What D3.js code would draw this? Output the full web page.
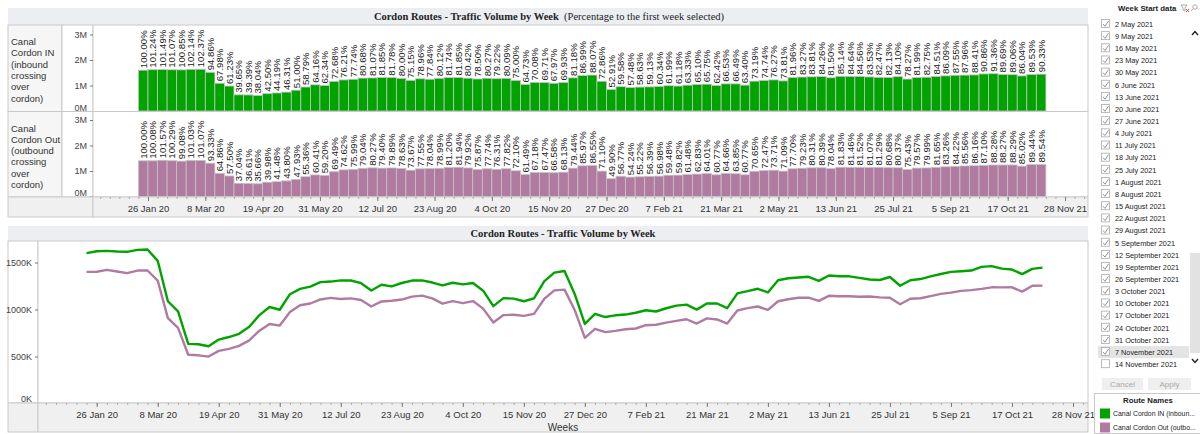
<!DOCTYPE html>
<html>
<head>
<meta charset="utf-8">
<script src="https://cdn.jsdelivr.net/npm/d3@7"></script>
<style>
  body { margin: 0; background: #fff; }
  svg { font-family: "Liberation Sans", Arial, sans-serif; }
</style>
</head>
<body>
<svg id="chart" width="1200" height="434"></svg>
<script>
/*global d3*/

// ---- data ----
const firstWeek = new Date(2020, 0, 19)
const lastWeek = new Date(2021, 10, 7)
const weeks = d3.timeWeek.range(firstWeek, d3.timeDay.offset(lastWeek, 1))

// volume of the first selected week
const baseIn = 1600000
const baseOut = 1400000

const pctIn = [100.00, 101.24, 101.49, 101.07, 100.85, 102.14, 102.37, 94.86, 67.98, 61.23,
  39.65, 39.39, 38.04, 42.50, 44.19, 46.31, 51.00, 58.79, 64.16, 62.34,
  72.68, 76.21, 77.74, 80.68, 81.07, 81.85, 81.78, 80.00, 75.15, 78.96,
  77.84, 80.12, 81.74, 81.85, 80.42, 78.50, 80.27, 79.22, 80.09, 75.00,
  64.73, 70.08, 69.71, 67.97, 69.93, 81.18, 86.99, 88.07, 72.86, 52.91,
  59.58, 57.48, 58.63, 59.13, 60.34, 61.99, 61.18, 63.33, 65.10, 65.75,
  62.42, 66.53, 66.49, 63.40, 73.19, 74.74, 76.27, 73.81, 81.96, 83.27,
  83.81, 84.26, 81.50, 85.14, 84.64, 84.56, 83.53, 82.47, 82.13, 84.10,
  78.27, 81.99, 82.75, 84.51, 86.09, 87.55, 87.96, 88.41, 90.86, 91.36,
  89.69, 89.06, 86.04, 89.53, 90.33]

const pctOut = [100.00, 100.08, 101.57, 100.29, 99.08, 101.03, 101.07, 93.33, 64.86, 57.50,
  37.04, 36.61, 35.66, 39.98, 41.48, 43.80, 47.93, 55.36, 60.41, 59.20,
  69.49, 74.62, 75.99, 79.04, 80.27, 79.40, 79.89, 78.63, 73.67, 77.55,
  78.04, 78.99, 81.20, 81.94, 79.92, 75.87, 77.74, 76.31, 77.82, 72.10,
  61.49, 67.18, 67.47, 66.58, 68.13, 79.44, 85.97, 86.55, 71.10, 49.90,
  56.77, 54.24, 55.22, 56.39, 56.98, 59.48, 59.82, 61.48, 62.83, 64.01,
  60.77, 64.66, 63.85, 60.77, 70.65, 72.47, 73.71, 71.09, 77.70, 79.23,
  80.31, 80.39, 78.04, 81.83, 81.46, 81.52, 81.07, 81.29, 80.68, 80.37,
  75.43, 79.57, 79.99, 81.65, 83.26, 84.22, 85.56, 86.16, 87.10, 88.28,
  88.27, 88.29, 85.02, 89.44, 89.54]

const routes = [
  { key: "in", pct: pctIn, base: baseIn, color: "#00a300", label: ["Canal", "Cordon IN", "(inbound", "crossing", "over", "cordon)"], legend: "Canal Cordon IN (inboun..." },
  { key: "out", pct: pctOut, base: baseOut, color: "#b07aa1", label: ["Canal", "Cordon Out", "(outbound", "crossing", "over", "cordon)"], legend: "Canal Cordon Out (outbo..." },
]

const barTicksM = [0, 1e6, 2e6, 3e6]
const lineTicksK = [0, 500000, 1000000, 1500000]
const tickDates = d3.timeWeek.range(new Date(2020, 0, 26), new Date(2021, 10, 29), 6)

// rows of the week filter list
const filterWeeks = d3.timeWeek.range(new Date(2021, 4, 2), new Date(2021, 10, 15))

// ---- build ----
const svg = d3.select("#chart")
const fmtTick = d3.timeFormat("%-d %b %y")
const border = "#c9c9c9"
const band = "#eceef1"
const axisBg = "#f0f0f0"

const makeTime = (a, b, left, right) => {
  const tmp = d3.scaleTime().domain([new Date(2020, 0, 26), new Date(2021, 10, 28)]).range([a, b])
  return d3.scaleTime().domain([tmp.invert(left), tmp.invert(right)]).range([left, right])
}

// ========== top chart ==========
const topDims = { left: 93, right: 1088 }
const rows = [
  { y0: 25, y1: 111.5 },
  { y0: 111.5, y1: 197 },
]
const xTop = makeTime(148, 1065, topDims.left, topDims.right)

svg.append("rect").attr("x", 8).attr("y", 8).attr("width", 1080).attr("height", 17)
  .attr("fill", band)
const t1 = svg.append("text").attr("x", 549).attr("y", 20).attr("text-anchor", "middle")
  .style("font-family", "'Liberation Serif', serif").style("font-size", "10.5px").attr("fill", "#222")
t1.append("tspan").attr("font-weight", "bold").text("Cordon Routes - Traffic Volume by Week")
t1.append("tspan").text("\u00a0\u00a0(Percentage to the first week selected)")

routes.forEach((r, i) => {
  const { y0, y1 } = rows[i]
  // header cell
  svg.append("rect").attr("x", 8).attr("y", y0).attr("width", 54).attr("height", y1 - y0)
    .attr("fill", "#f6f6f6").attr("stroke", border)
  svg.append("rect").attr("x", 62).attr("y", y0).attr("width", topDims.left - 62).attr("height", y1 - y0)
    .attr("fill", "#fff").attr("stroke", border)
  svg.append("rect").attr("x", topDims.left).attr("y", y0).attr("width", topDims.right - topDims.left).attr("height", y1 - y0)
    .attr("fill", "#fff").attr("stroke", border)

  svg.append("g").selectAll("text").data(r.label).join("text")
    .attr("x", 11).attr("y", (d, j) => y0 + 20 + j * 11.3)
    .attr("font-size", "9.5px").attr("fill", "#333").text(d => d)

  const yScale = d3.scaleLinear().domain([0, 3e6]).range([y1 - 0.5, y1 - 77])

  const yAxis = svg.append("g")
    .attr("transform", `translate(${topDims.left},0)`)
    .call(d3.axisLeft(yScale).tickValues(barTicksM).tickSize(3).tickFormat(d => d / 1e6 + "M"))
  yAxis.select(".domain").remove()
  yAxis.selectAll("line").attr("stroke", "#777")
  yAxis.selectAll("text").attr("font-size", "9px").attr("fill", "#444")
  yAxis.selectAll(".tick").filter(d => d === 0).select("text").attr("dy", "-0.1em")

  const data = weeks.map((w, j) => ({ date: w, pct: r.pct[j], value: r.base * r.pct[j] / 100 }))

  const bars = svg.append("g")
  bars.selectAll("rect").data(data).join("rect")
    .attr("x", d => xTop(d.date))
    .attr("y", d => yScale(d.value))
    .attr("width", d => xTop(d3.timeDay.offset(d.date, 7)) - xTop(d.date))
    .attr("height", d => yScale(0) - yScale(d.value))
    .attr("fill", r.color)
    .attr("stroke", "#c4c4c4")
    .attr("stroke-width", 0.8)

  bars.selectAll("text").data(data).join("text")
    .attr("transform", d => {
      const cx = (xTop(d.date) + xTop(d3.timeDay.offset(d.date, 7))) / 2
      return `translate(${cx},${yScale(d.value) - 2}) rotate(-90)`
    })
    .attr("dy", "0.36em")
    .attr("font-size", "9.6px")
    .attr("fill", "#222")
    .text(d => d.pct.toFixed(2) + "%")
})

// top x axis row
svg.append("rect").attr("x", 8).attr("y", 197).attr("width", topDims.left - 8).attr("height", 20)
  .attr("fill", axisBg).attr("stroke", border)
svg.append("rect").attr("x", topDims.left).attr("y", 197).attr("width", topDims.right - topDims.left).attr("height", 20)
  .attr("fill", axisBg).attr("stroke", border)

const drawTimeAxis = (x, y, size) => {
  const minor = svg.append("g").attr("transform", `translate(0,${y})`)
    .call(d3.axisBottom(x).tickValues(d3.timeWeek.range(x.domain()[0], x.domain()[1])).tickSize(2).tickFormat(""))
  minor.select(".domain").remove()
  minor.selectAll("line").attr("stroke", "#aaa")
  const ax = svg.append("g").attr("transform", `translate(0,${y})`)
    .call(d3.axisBottom(x).tickValues(tickDates).tickSize(4).tickPadding(4).tickFormat(fmtTick))
  ax.select(".domain").remove()
  ax.selectAll("line").attr("stroke", "#777")
  ax.selectAll("text").attr("font-size", size).attr("fill", "#333")
}
drawTimeAxis(xTop, 197, "9.5px")

// ========== bottom chart ==========
const bot = { left: 38, right: 1088, top: 241, bottom: 403 }
const xBot = makeTime(96.7, 1073, bot.left, bot.right)
const yBot = d3.scaleLinear().domain([0, 500000]).range([bot.bottom + 0.5, bot.bottom - 46.5])

svg.append("rect").attr("x", 8).attr("y", 226).attr("width", 1080).attr("height", 15).attr("fill", band)
svg.append("text").attr("x", 563).attr("y", 236.5).attr("text-anchor", "middle")
  .style("font-family", "'Liberation Serif', serif").style("font-size", "10.5px")
  .attr("font-weight", "bold").attr("fill", "#222")
  .text("Cordon Routes - Traffic Volume by Week")

svg.append("rect").attr("x", 8).attr("y", bot.top).attr("width", bot.left - 8).attr("height", bot.bottom - bot.top)
  .attr("fill", "#fff").attr("stroke", border)
svg.append("rect").attr("x", bot.left).attr("y", bot.top).attr("width", bot.right - bot.left).attr("height", bot.bottom - bot.top)
  .attr("fill", "#fff").attr("stroke", border)
svg.append("rect").attr("x", 8).attr("y", bot.bottom).attr("width", bot.left - 8).attr("height", 29)
  .attr("fill", axisBg).attr("stroke", border)
svg.append("rect").attr("x", bot.left).attr("y", bot.bottom).attr("width", bot.right - bot.left).attr("height", 29)
  .attr("fill", axisBg).attr("stroke", border)

const yAxisBot = svg.append("g").attr("transform", `translate(${bot.left},0)`)
  .call(d3.axisLeft(yBot).tickValues(lineTicksK).tickSize(3).tickFormat(d => d / 1000 + "K"))
yAxisBot.select(".domain").remove()
yAxisBot.selectAll("line").attr("stroke", "#777")
yAxisBot.selectAll("text").attr("font-size", "9px").attr("fill", "#444")
yAxisBot.selectAll(".tick").filter(d => d === 0).select("text").attr("dy", "-0.2em")
yAxisBot.selectAll(".tick").filter(d => d === 0).select("line").remove()

drawTimeAxis(xBot, bot.bottom, "9.5px")
svg.append("text").attr("x", 563).attr("y", 430.5).attr("text-anchor", "middle")
  .attr("font-size", "10px").attr("fill", "#333").text("Weeks")

const line = d3.line().x(d => xBot(d.date)).y(d => yBot(d.value))
routes.forEach(r => {
  const data = weeks.map((w, j) => ({ date: w, value: r.base * r.pct[j] / 100 }))
  svg.append("path").datum(data)
    .attr("d", line)
    .attr("fill", "none")
    .attr("stroke", r.color)
    .attr("stroke-width", 2.4)
    .attr("stroke-linejoin", "round")
})

// ========== right panel ==========
const panel = svg.append("g")
panel.append("text").attr("x", 1118).attr("y", 11).attr("font-size", "7.8px").attr("font-weight", "bold")
  .attr("fill", "#222").text("Week Start data")
// filter + search icons
panel.append("path").attr("d", "M1181,5 L1187,5 L1185,8 L1185,11 L1183,10 L1183,8 Z")
  .attr("fill", "none").attr("stroke", "#999").attr("stroke-width", 0.8)
panel.append("path").attr("d", "M1186,9 L1189,12 M1189,9 L1186,12").attr("stroke", "#d33").attr("stroke-width", 0.9)
panel.append("circle").attr("cx", 1195).attr("cy", 7).attr("r", 2.2).attr("fill", "none").attr("stroke", "#999").attr("stroke-width", 0.8)
panel.append("path").attr("d", "M1193.4,8.6 L1191,11").attr("stroke", "#999").attr("stroke-width", 0.8)

// scrollbar
panel.append("rect").attr("x", 1190).attr("y", 253).attr("width", 10).attr("height", 100).attr("fill", "#e2e2e2")
panel.append("path").attr("d", "M1192,35 L1195,31.5 L1198,35").attr("fill", "none").attr("stroke", "#222").attr("stroke-width", 1.4)
panel.append("path").attr("d", "M1192,359 L1195,362.5 L1198,359").attr("fill", "none").attr("stroke", "#222").attr("stroke-width", 1.4)

const fmtLong = d3.timeFormat("%-d %B %Y")
const lastChecked = +lastWeek
const items = panel.selectAll("g.item").data(filterWeeks).join("g").attr("class", "item")
  .attr("transform", (d, i) => `translate(0,${24 + i * 12.15})`)
items.filter(d => +d === lastChecked).append("rect")
  .attr("x", 1098).attr("y", -6).attr("width", 91).attr("height", 12).attr("fill", "#e4e4e4")
items.append("rect").attr("x", 1101.5).attr("y", -4.5).attr("width", 8).attr("height", 8)
  .attr("fill", "#fff").attr("stroke", "#aaa").attr("stroke-width", 0.8)
items.filter(d => +d <= lastChecked).append("path")
  .attr("d", "M1103,0 L1105,2.2 L1108.5,-3").attr("fill", "none").attr("stroke", "#888").attr("stroke-width", 0.9)
items.append("text").attr("x", 1115).attr("y", 2.8).attr("font-size", "7.3px").attr("fill", "#222")
  .text(d => fmtLong(d))

const buttons = [{ t: "Cancel", x: 1102, w: 41 }, { t: "Apply", x: 1148, w: 43 }]
panel.selectAll("g.btn").data(buttons).join("g").attr("class", "btn").each(function (b) {
  const g = d3.select(this)
  g.append("rect").attr("x", b.x).attr("y", 378).attr("width", b.w).attr("height", 12).attr("fill", "#efefef")
  g.append("text").attr("x", b.x + b.w / 2).attr("y", 387).attr("text-anchor", "middle")
    .attr("font-size", "8px").attr("fill", "#aaa").text(b.t)
})

// legend
panel.append("rect").attr("x", 1094.5).attr("y", 393.5).attr("width", 106).attr("height", 40)
  .attr("fill", "#fff").attr("stroke", border)
panel.append("text").attr("x", 1148).attr("y", 403).attr("text-anchor", "middle")
  .attr("font-size", "7.8px").attr("font-weight", "bold").attr("fill", "#222").text("Route Names")
const leg = panel.selectAll("g.leg").data(routes).join("g").attr("class", "leg")
  .attr("transform", (d, i) => `translate(0,${413.5 + i * 14})`)
leg.append("rect").attr("x", 1100).attr("y", -5).attr("width", 10).attr("height", 10).attr("fill", d => d.color)
leg.append("text").attr("x", 1113).attr("y", 2.8).attr("font-size", "6.9px").attr("fill", "#222").text(d => d.legend)
</script>
</body>
</html>
